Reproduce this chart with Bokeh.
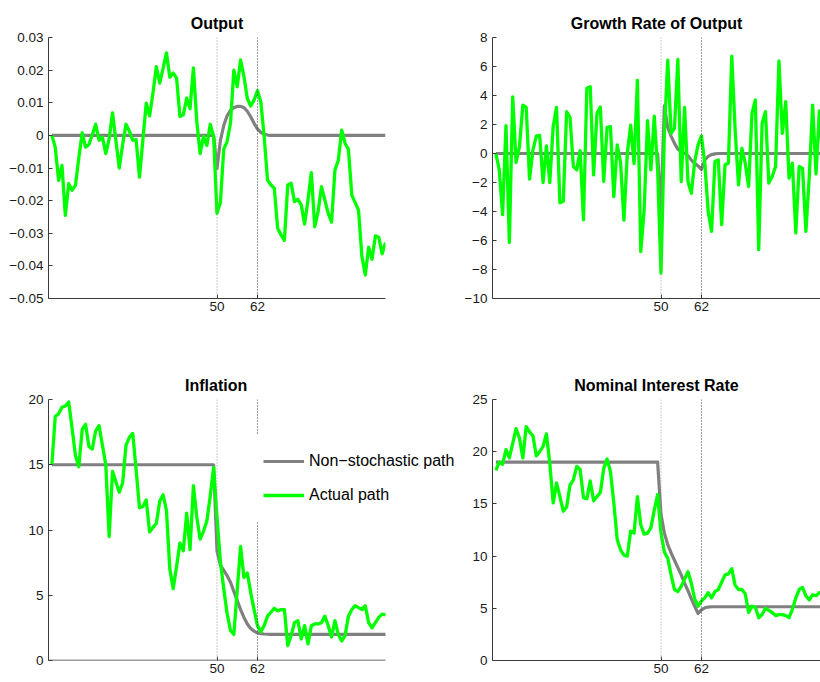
from bokeh.plotting import figure
from bokeh.models import FixedTicker, Span, Legend, LegendItem, Range1d
from bokeh.layouts import column, row
from bokeh.embed import file_html
from bokeh.resources import INLINE

# ---------------- data ----------------
periods = list(range(1, 101))
marks = [50, 62]
mark_labels = ["50", "62"]

output_actual = [
    0.0000, -0.0036, -0.0138, -0.0092, -0.0245, -0.0148, -0.0168, -0.0153, -0.0069, 0.0008,
    -0.0036, -0.0028, 0.0002, 0.0034, -0.0015, -0.0005, -0.0056, -0.0010, 0.0069, -0.0016,
    -0.0100, -0.0028, 0.0034, 0.0013, -0.0015, -0.0013, -0.0128, -0.0015, 0.0099, 0.0060,
    0.0130, 0.0211, 0.0160, 0.0205, 0.0253, 0.0178, 0.0191, 0.0176, 0.0058, 0.0063,
    0.0114, 0.0082, 0.0207, 0.0043, -0.0056, -0.0003, -0.0031, 0.0034, -0.0004, -0.0239,
    -0.0206, -0.0042, -0.0019, 0.0037, 0.0200, 0.0149, 0.0231, 0.0180, 0.0113, 0.0090,
    0.0108, 0.0137, 0.0103, -0.0004, -0.0137, -0.0152, -0.0162, -0.0285, -0.0305, -0.0322,
    -0.0152, -0.0147, -0.0203, -0.0196, -0.0213, -0.0272, -0.0198, -0.0114, -0.0280, -0.0234,
    -0.0157, -0.0198, -0.0239, -0.0266, -0.0106, -0.0076, 0.0016, -0.0024, -0.0043, -0.0183,
    -0.0206, -0.0229, -0.0371, -0.0428, -0.0343, -0.0380, -0.0308, -0.0312, -0.0363, -0.0329,
]
output_path = [0.0] * 49 + [
    -0.0102, -0.0016, 0.0030, 0.0060, 0.0077, 0.0085, 0.0089, 0.0089, 0.0085, 0.0074,
    0.0057, 0.0037, 0.0020, 0.0009, 0.0004, 0.0001,
] + [0.0] * 35

growth_actual = [
    0.0, -1.13, -4.22, 1.92, -6.13, 3.91, -0.62, 0.48, 3.34, 3.18,
    -1.77, 0.25, 1.2, 1.25, -2.0, 0.52, -2.0, 1.85, 3.18, -3.4,
    -3.3, 2.88, 2.5, -0.9, -1.13, 0.2, -4.57, 4.5, 4.6, -1.47,
    2.77, 3.2, -1.93, 1.8, 1.85, -2.97, 0.59, -0.6, -4.6, 0.0,
    1.95, -0.7, 5.05, -6.77, -3.88, 2.27, -1.13, 2.58, -1.13, -8.25,
    1.4, 6.44, 1.39, 1.74, 6.49, -1.93, 3.18, -1.93, -2.74, -0.55,
    0.59, 1.21, -0.67, -4.0, -5.37, -0.55, -0.44, -4.91, -0.78, -0.67,
    6.72, 1.62, -2.16, 0.36, -0.67, -2.27, 2.77, 3.69, -6.63, 2.08,
    2.89, -2.04, -1.58, -0.9, 6.39, 1.39, 3.57, -1.7, -0.67, -5.48,
    -0.9, -1.01, -5.37, -1.58, 3.34, -1.4, 2.93, -0.2, -2.0, 1.4,
]
growth_path = [0.0] * 49 + [
    -4.1, 3.3, 1.8, 1.2, 0.7, 0.3, 0.15, 0.0, -0.15, -0.45,
    -0.7, -0.85, -1.1, -0.45, -0.2, -0.08, -0.03,
] + [0.0] * 34

inflation_actual = [
    15.0, 18.7, 18.9, 19.4, 19.5, 19.8, 17.8, 15.7, 14.85, 17.7,
    18.1, 16.4, 16.2, 17.6, 18.0, 16.5, 15.0, 9.5, 14.5, 13.7,
    12.9, 13.6, 16.5, 17.1, 17.4, 14.6, 11.7, 11.8, 12.3, 9.85,
    10.2, 10.5, 12.2, 12.7, 11.5, 7.0, 5.5, 7.2, 9.0, 8.4,
    11.3, 8.5, 13.4, 11.0, 9.3, 9.9, 10.7, 12.6, 14.8, 11.0,
    7.6, 5.5, 3.6, 2.3, 2.0, 5.4, 8.75, 6.35, 6.7, 5.2,
    3.9, 2.67, 2.2, 2.67, 3.4, 3.7, 4.0, 3.8, 3.9, 3.9,
    1.15, 1.9, 2.9, 3.05, 1.65, 2.67, 1.27, 2.67, 2.8, 2.8,
    2.9, 3.4, 2.67, 1.8, 3.05, 2.0, 1.5, 1.9, 3.4, 3.9,
    4.2, 4.05, 3.9, 4.2, 2.9, 2.5, 2.9, 3.3, 3.55, 3.5,
]
inflation_path = [15.0] * 49 + [
    8.4, 7.3, 6.9, 6.5, 6.0, 5.3, 4.6, 3.9, 3.3, 2.8,
    2.45, 2.25, 2.12, 2.06, 2.03, 2.01,
] + [2.0] * 35

interest_actual = [
    18.2, 19.0, 18.8, 20.2, 19.4, 20.8, 22.2, 21.3, 19.4, 22.4,
    21.9, 21.5, 19.6, 20.0, 20.5, 21.7, 18.9, 15.1, 17.0, 15.7,
    14.3, 14.7, 16.8, 17.3, 18.6, 18.3, 15.6, 15.5, 17.2, 15.3,
    15.7, 16.1, 18.4, 19.3, 18.1, 15.1, 11.6, 10.6, 10.1, 10.0,
    12.4, 12.2, 15.7, 13.0, 12.1, 12.2, 12.7, 14.4, 15.9, 12.2,
    10.4, 9.8, 8.2, 6.8, 6.6, 7.1, 7.8, 8.5, 7.4, 5.9,
    5.2, 5.7, 6.0, 6.5, 6.0, 6.6, 6.8, 7.5, 8.2, 8.3,
    8.8, 7.2, 6.8, 6.8, 6.4, 4.6, 5.2, 5.1, 4.1, 4.4,
    5.0, 4.8, 4.6, 4.3, 4.4, 4.4, 4.3, 4.1, 4.9, 6.0,
    6.8, 7.0, 6.2, 5.8, 6.3, 6.2, 6.5, 6.6, 6.7, 6.8,
]
interest_path = [19.0] * 49 + [
    14.0, 12.2, 11.1, 10.3, 9.6, 8.9, 8.2, 7.4, 6.7, 5.9,
    5.2, 4.5, 4.85, 5.05, 5.12,
] + [5.15] * 36

output_ticks = [-0.05, -0.04, -0.03, -0.02, -0.01, 0.0, 0.01, 0.02, 0.03]
output_labels = ["\u22120.05", "\u22120.04", "\u22120.03", "\u22120.02", "\u22120.01", "0", "0.01", "0.02", "0.03"]
growth_ticks = [-10, -8, -6, -4, -2, 0, 2, 4, 6, 8]
growth_labels = ["\u221210", "\u22128", "\u22126", "\u22124", "\u22122", "0", "2", "4", "6", "8"]
inflation_ticks = [0, 5, 10, 15, 20]
inflation_labels = ["0", "5", "10", "15", "20"]
interest_ticks = [0, 5, 10, 15, 20, 25]
interest_labels = ["0", "5", "10", "15", "20", "25"]

FONT = "Liberation Sans"
GRAY = "#808080"
GREEN = "#00ff00"
AXIS = "#3a3a3a"
PX_PER_PERIOD = 3.37          # horizontal scale shared by all panels
FRAME_H = 261


def make_panel(title, frame_w, y_lo, y_hi, yticks, ylabels, left, bottom_border,
               show_axis_line=True):
    x_end = frame_w / PX_PER_PERIOD
    p = figure(
        frame_width=frame_w, frame_height=FRAME_H,
        x_range=Range1d(0, x_end), y_range=Range1d(y_lo, y_hi),
        output_backend="svg", toolbar_location=None,
        min_border_left=left, min_border_right=0,
        min_border_top=37, min_border_bottom=bottom_border,
        background_fill_color="white", border_fill_color="white",
    )
    p.outline_line_color = None
    p.xgrid.visible = False
    p.ygrid.visible = False
    p.title.text = title
    p.title.align = "center"
    p.title.text_font = FONT
    p.title.text_font_style = "bold"
    p.title.text_font_size = "16px"
    p.title.text_color = "#000000"
    p.title.standoff = 12

    p.xaxis.ticker = FixedTicker(ticks=marks)
    p.xaxis.major_label_overrides = {m: s for m, s in zip(marks, mark_labels)}
    p.yaxis.ticker = FixedTicker(ticks=yticks)
    p.yaxis.major_label_overrides = {t: s for t, s in zip(yticks, ylabels)}
    for ax in (p.xaxis, p.yaxis):
        ax.axis_line_color = AXIS
        ax.axis_line_width = 1
        ax.major_tick_line_color = AXIS
        ax.major_tick_in = 4
        ax.major_tick_out = 0
        ax.minor_tick_line_color = None
        ax.major_label_text_font = FONT
        ax.major_label_text_font_size = "13.5px"
        ax.major_label_text_color = "#1a1a1a"
    p.xaxis.major_label_standoff = 3
    p.yaxis.major_label_standoff = 5
    if not show_axis_line:
        p.xaxis.axis_line_color = None
        # bottom axis line drawn only over the period span
        p.line([0, periods[-1]], [y_lo, y_lo], line_color=AXIS, line_width=1.5)

    p.add_layout(Span(location=marks[0], dimension="height", line_color="#9a9a9a",
                      line_width=1, line_dash="1 2"))
    p.add_layout(Span(location=marks[1], dimension="height", line_color="#333333",
                      line_width=1, line_dash="1 2"))
    return p


def draw(p, path, actual):
    g = p.line(periods, path, line_color=GRAY, line_width=3.2, line_join="round")
    a = p.line(periods, actual, line_color=GREEN, line_width=3.3, line_join="round")
    return g, a


LEFT_FRAME = 337      # periods 0..100
LEFT_CANVAS_FRAME = 407   # wider frame (room for the legend), axis line only to 100
RIGHT_FRAME = 328

p1 = make_panel("Output", LEFT_FRAME, -0.05, 0.03, output_ticks, output_labels, 48, 64)
p1.min_border_right = 70
draw(p1, output_path, output_actual)

p2 = make_panel("Growth Rate of Output", RIGHT_FRAME, -10, 8, growth_ticks, growth_labels, 37, 64)
draw(p2, growth_path, growth_actual)

p3 = make_panel("Inflation", LEFT_CANVAS_FRAME, 0, 20, inflation_ticks, inflation_labels, 48, 18,
                show_axis_line=False)
p3.title.align = "left"
p3.title.offset = (LEFT_FRAME - 64) / 2
g3, a3 = draw(p3, inflation_path, inflation_actual)

p4 = make_panel("Nominal Interest Rate", RIGHT_FRAME, 0, 25, interest_ticks, interest_labels, 37, 18)
draw(p4, interest_path, interest_actual)

LEG_PAD = 16
legend = Legend(
    items=[LegendItem(label="Non\u2212stochastic path", renderers=[g3]),
           LegendItem(label="Actual path", renderers=[a3])],
    location=(215 - LEG_PAD, FRAME_H - 106 - LEG_PAD),
    label_text_font=FONT, label_text_font_size="16px", label_text_color="#000000",
    glyph_width=41, glyph_height=20, label_height=20, label_standoff=5,
    spacing=14, padding=LEG_PAD, margin=0,
    border_line_alpha=0, background_fill_color="white", background_fill_alpha=1.0,
)
p3.add_layout(legend)

layout = column(row(p1, p2), row(p3, p4))

open("out.html", "w").write(file_html(layout, INLINE))
